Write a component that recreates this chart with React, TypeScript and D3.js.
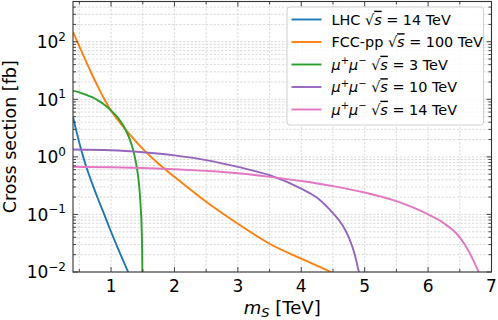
import React from 'react';
import * as d3 from 'd3';

// masses in TeV, cross sections in fb
const lhcMass = [0.4, 0.45, 0.5, 0.55, 0.6, 0.7, 0.8, 0.9, 1.0, 1.1, 1.2, 1.27];
const lhcXsec = [4.9, 2.9, 1.75, 1.1, 0.72, 0.35, 0.18, 0.095, 0.05, 0.027, 0.015, 0.01];

const fccMass = [0.4, 0.5, 0.6, 0.7, 0.8, 0.9, 1.0, 1.1, 1.25, 1.5, 1.75, 2.0, 2.5, 3.0, 3.5, 4.0, 4.47];
const fccXsec = [148, 83, 47, 27, 16, 9.8, 6.3, 4.45, 2.8, 1.38, 0.76, 0.45, 0.166, 0.069, 0.031, 0.017, 0.01];

const mu3Mass = [0.4, 0.5, 0.6, 0.7, 0.8, 0.9, 1.0, 1.1, 1.2, 1.25, 1.3, 1.35, 1.4, 1.43, 1.45, 1.47, 1.48, 1.49, 1.494];
const mu3Xsec = [14, 13.2, 12.1, 10.9, 9.5, 8.0, 6.4, 4.9, 3.4, 2.65, 1.95, 1.3, 0.72, 0.43, 0.26, 0.12, 0.07, 0.024, 0.01];

const mu10Mass = [0.4, 1.0, 1.5, 2.0, 2.5, 3.0, 3.5, 4.0, 4.25, 4.5, 4.65, 4.75, 4.85, 4.9, 4.91];
const mu10Xsec = [1.34, 1.3, 1.2, 1.06, 0.88, 0.67, 0.48, 0.28, 0.195, 0.105, 0.065, 0.04, 0.019, 0.011, 0.01];

const mu14Mass = [0.4, 1.0, 1.5, 2.0, 2.5, 3.0, 3.5, 4.0, 4.5, 5.0, 5.5, 6.0, 6.25, 6.5, 6.65, 6.75, 6.8];
const mu14Xsec = [0.67, 0.66, 0.64, 0.61, 0.57, 0.52, 0.45, 0.38, 0.31, 0.24, 0.17, 0.1, 0.07, 0.04, 0.022, 0.013, 0.01];

const seriesColors = ['#1f77b4', '#ff7f0e', '#2ca02c', '#9467bd', '#e377c2'];
const xTicks = [1, 2, 3, 4, 5, 6, 7];
const yExponents = [-2, -1, 0, 1, 2];

const W = 498;
const H = 320;
const plot = { left: 73, right: 491.5, top: 1.5, bottom: 272 };
const FONT = 'DejaVu Sans';

const series = [
  { mass: lhcMass, xsec: lhcXsec },
  { mass: fccMass, xsec: fccXsec },
  { mass: mu3Mass, xsec: mu3Xsec },
  { mass: mu10Mass, xsec: mu10Xsec },
  { mass: mu14Mass, xsec: mu14Xsec },
];

const Sqrt = () => (
  <>
    <tspan>√</tspan>
    <tspan fontStyle="italic" textDecoration="overline">s</tspan>
  </>
);

const MuMu = () => (
  <>
    <tspan fontStyle="italic">μ</tspan>
    <tspan fontSize={10} dy={-5.5}>+</tspan>
    <tspan fontStyle="italic" dy={5.5}>μ</tspan>
    <tspan fontSize={10} dy={-5.5}>−</tspan>
    <tspan dy={5.5}> </tspan>
  </>
);

const legendLabels = [
  <><tspan>LHC </tspan><Sqrt /><tspan> = 14 TeV</tspan></>,
  <><tspan>FCC-pp </tspan><Sqrt /><tspan> = 100 TeV</tspan></>,
  <><MuMu /><tspan> </tspan><Sqrt /><tspan> = 3 TeV</tspan></>,
  <><MuMu /><tspan> </tspan><Sqrt /><tspan> = 10 TeV</tspan></>,
  <><MuMu /><tspan> </tspan><Sqrt /><tspan> = 14 TeV</tspan></>,
];

export default function App() {
  const x = d3.scaleLinear().domain([0.4, 7]).range([plot.left, plot.right]);
  const y = d3.scaleLog().domain([0.01, 500]).range([plot.bottom, plot.top]);

  const line = d3
    .line<[number, number]>()
    .x((d) => x(d[0]))
    .y((d) => y(d[1]))
    .curve(d3.curveMonotoneX);

  const xMinor = d3.range(0.5, 7, 1);
  const yMajor = yExponents.map((e) => Math.pow(10, e));
  const yMinor: number[] = [];
  yMajor.forEach((d) => {
    for (let k = 2; k <= 9; k++) if (k * d <= 500) yMinor.push(k * d);
  });

  return (
    <svg width={W} height={H} style={{ position: 'absolute', left: 0, top: 0 }} fontFamily={FONT}>
      <defs>
        <clipPath id="plotClip">
          <rect x={plot.left} y={plot.top} width={plot.right - plot.left} height={plot.bottom - plot.top} />
        </clipPath>
      </defs>
      <rect width={W} height={H} fill="#fff" />

      {/* grid */}
      <g stroke="#c8c8c8" strokeWidth={0.7} strokeDasharray="2.2,1.6">
        {[...xTicks, ...xMinor].map((t) => (
          <line key={'gx' + t} x1={x(t)} x2={x(t)} y1={plot.top} y2={plot.bottom} />
        ))}
        {[...yMajor, ...yMinor].map((t) => (
          <line key={'gy' + t} x1={plot.left} x2={plot.right} y1={y(t)} y2={y(t)} />
        ))}
      </g>

      {/* curves */}
      <g clipPath="url(#plotClip)" fill="none" strokeWidth={1.9}>
        {series.map((s, i) => (
          <path
            key={i}
            d={line(s.mass.map((m, j) => [m, s.xsec[j]] as [number, number])) || ''}
            stroke={seriesColors[i]}
          />
        ))}
      </g>

      {/* ticks, pointing inward on all sides */}
      <g stroke="#333" strokeWidth={0.9}>
        {xTicks.map((t) => (
          <g key={'tx' + t}>
            <line x1={x(t)} x2={x(t)} y1={plot.bottom} y2={plot.bottom - 5} />
            <line x1={x(t)} x2={x(t)} y1={plot.top} y2={plot.top + 5} />
          </g>
        ))}
        {xMinor.map((t) => (
          <g key={'mx' + t}>
            <line x1={x(t)} x2={x(t)} y1={plot.bottom} y2={plot.bottom - 3} />
            <line x1={x(t)} x2={x(t)} y1={plot.top} y2={plot.top + 3} />
          </g>
        ))}
        {yMajor.map((t) => (
          <g key={'ty' + t}>
            <line x1={plot.left} x2={plot.left + 5} y1={y(t)} y2={y(t)} />
            <line x1={plot.right} x2={plot.right - 5} y1={y(t)} y2={y(t)} />
          </g>
        ))}
        {yMinor.map((t) => (
          <g key={'my' + t}>
            <line x1={plot.left} x2={plot.left + 3} y1={y(t)} y2={y(t)} />
            <line x1={plot.right} x2={plot.right - 3} y1={y(t)} y2={y(t)} />
          </g>
        ))}
      </g>

      {/* frame */}
      <rect
        x={plot.left}
        y={plot.top}
        width={plot.right - plot.left}
        height={plot.bottom - plot.top}
        fill="none"
        stroke="#333"
        strokeWidth={1.1}
      />

      {/* tick labels */}
      <g fontSize={17} fill="#000">
        {xTicks.map((t) => (
          <text key={'lx' + t} x={x(t)} y={292} textAnchor="middle">
            {t}
          </text>
        ))}
        {yExponents.map((e) => (
          <text key={'ly' + e} x={66} y={y(Math.pow(10, e)) + 6.3} textAnchor="end">
            <tspan>10</tspan>
            <tspan fontSize={12} dy={-7.5}>
              {e < 0 ? '−' + Math.abs(e) : String(e)}
            </tspan>
          </text>
        ))}
      </g>

      {/* axis labels */}
      <text x={(plot.left + plot.right) / 2} y={314} textAnchor="middle" fontSize={18}>
        <tspan fontStyle="italic">m</tspan>
        <tspan fontSize={13} fontStyle="italic" dy={3}>S</tspan>
        <tspan dy={-3}> [TeV]</tspan>
      </text>
      <text
        transform={`translate(15.5,${(plot.top + plot.bottom) / 2}) rotate(-90)`}
        textAnchor="middle"
        fontSize={17.5}
      >
        Cross section [fb]
      </text>

      {/* legend */}
      <g>
        <rect x={287} y={7} width={196.5} height={118} rx={3} fill="#fff" fillOpacity={0.85} stroke="#d0d0d0" />
        {legendLabels.map((lab, i) => {
          const ly = 19.5 + i * 22.5;
          return (
            <g key={'lg' + i}>
              <line x1={291.5} x2={321.5} y1={ly} y2={ly} stroke={seriesColors[i]} strokeWidth={1.9} />
              <text x={331.5} y={ly + 5.2} fontSize={14.4} fill="#000">
                {lab}
              </text>
            </g>
          );
        })}
      </g>
    </svg>
  );
}
